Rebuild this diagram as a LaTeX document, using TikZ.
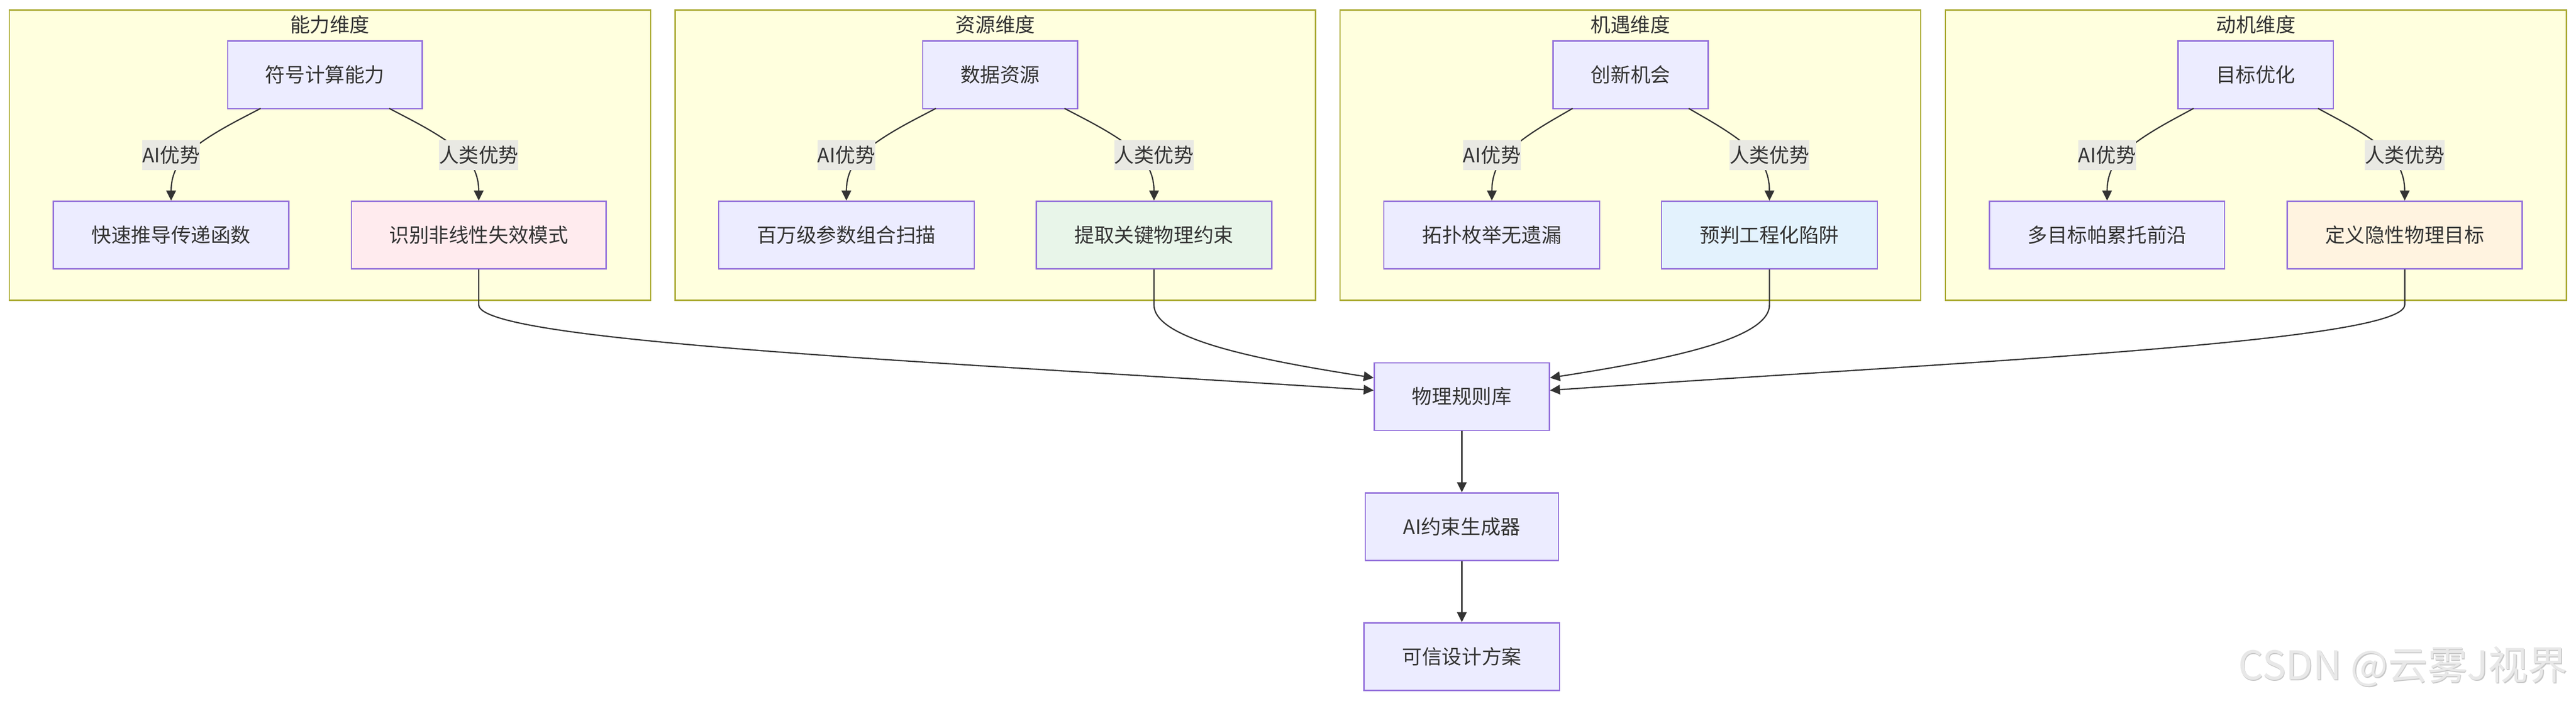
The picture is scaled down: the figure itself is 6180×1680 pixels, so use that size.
\documentclass[tikz,border=0pt]{standalone}
\usepackage{fontspec}
\setmainfont{Noto Sans CJK SC}
\usetikzlibrary{arrows.meta,calc}
\definecolor{clfill}{HTML}{FFFFDE}
\definecolor{cldraw}{HTML}{AAAA33}
\definecolor{ndfill}{HTML}{ECECFF}
\definecolor{nddraw}{HTML}{9370DB}
\definecolor{txt}{HTML}{333333}
\definecolor{lblfill}{RGB}{233,233,227}
\definecolor{pinkfill}{HTML}{FFEBEE}
\definecolor{greenfill}{HTML}{E8F5E9}
\definecolor{bluefill}{HTML}{E3F2FD}
\definecolor{orangefill}{HTML}{FFF3E0}
\definecolor{wmtext}{RGB}{232,232,232}
\definecolor{wmshadow}{RGB}{200,200,200}
\newcommand\inedge[3]{%
  \coordinate (eA) at ($(#1.center)!0.41818!(#2)$);
  \coordinate (eB) at (#2);
  \coordinate (eC) at (#3.north);
  \coordinate (eM) at ($(eA)!0.5!(eC)$);
  \draw[arr] (eA) -- ($(eA)!1/6!(eB)$)
    .. controls ($(eA)!1/3!(eB)$) and ($(eA)!2/3!(eB)$) .. ($(eB)!1/3!(eM)$)
    .. controls ($(eB)!1/3!(eC)$) and ($(eB)!2/3!(eC)$) .. ($(eB)!5/6!(eC)$)
    -- (eC);
}
\begin{document}
\begin{tikzpicture}[x=1pt,y=-1pt,
  font=\fontsize{47.7}{57}\selectfont,
  cluster/.style={draw=cldraw, fill=clfill, line width=3pt, inner sep=0pt, minimum height=696pt},
  cltitle/.style={text=txt, inner sep=0pt},
  box/.style={draw=nddraw, fill=ndfill, line width=3pt, minimum height=162pt, inner sep=0pt, text=txt},
  elabel/.style={fill=lblfill, inner sep=0pt, minimum height=72pt, text=txt},
  arr/.style={draw=txt, line width=3pt, -{Triangle[length=24pt,width=23pt]}},
]
\useasboundingbox (0,0) rectangle (6180,1680);
\fill[white] (0,0) rectangle (6180,1680);

% clusters
\node[cluster, minimum width=1539pt] (c1) at (791.5,372) {};
\node[cluster, minimum width=1536pt] (c2) at (2388,372) {};
\node[cluster, minimum width=1393pt] (c3) at (3911.5,372) {};
\node[cluster, minimum width=1490pt] (c4) at (5412,372) {};
\node[cltitle] (t1) at (791.5,59) {能力维度};
\node[cltitle] (t2) at (2388,59) {资源维度};
\node[cltitle] (t3) at (3911.5,59) {机遇维度};
\node[cltitle] (t4) at (5412,59) {动机维度};

% nodes
\node[box, minimum width=467pt] (p1) at (779.5,179.5) {符号计算能力};
\node[box, minimum width=565pt] (n1a) at (410.5,563.5) {快速推导传递函数};
\node[box, minimum width=611pt, fill=pinkfill] (n1b) at (1148.5,563.5) {识别非线性失效模式};

\node[box, minimum width=371pt] (p2) at (2399.5,179.5) {数据资源};
\node[box, minimum width=613pt] (n2a) at (2030.5,563.5) {百万级参数组合扫描};
\node[box, minimum width=565pt, fill=greenfill] (n2b) at (2768.5,563.5) {提取关键物理约束};

\node[box, minimum width=372pt] (p3) at (3912,179.5) {创新机会};
\node[box, minimum width=518pt] (n3a) at (3579,563.5) {拓扑枚举无遗漏};
\node[box, minimum width=518pt, fill=bluefill] (n3b) at (4245,563.5) {预判工程化陷阱};

\node[box, minimum width=373pt] (p4) at (5411.5,179.5) {目标优化};
\node[box, minimum width=564pt] (n4a) at (5055,563.5) {多目标帕累托前沿};
\node[box, minimum width=564pt, fill=orangefill] (n4b) at (5769,563.5) {定义隐性物理目标};

\node[box, minimum width=420pt] (lib) at (3507,951) {物理规则库};
\node[box, minimum width=463pt] (gen) at (3507,1263) {AI约束生成器};
\node[box, minimum width=469pt] (plan) at (3507,1574.5) {可信设计方案};

% label positions
\coordinate (q1a) at (410.5,372);
\coordinate (q1b) at (1148.5,372);
\coordinate (q2a) at (2030.5,372);
\coordinate (q2b) at (2768.5,372);
\coordinate (q3a) at (3579,372);
\coordinate (q3b) at (4245,372);
\coordinate (q4a) at (5055,372);
\coordinate (q4b) at (5769,372);

% inner edges
\inedge{p1}{q1a}{n1a}
\inedge{p1}{q1b}{n1b}
\inedge{p2}{q2a}{n2a}
\inedge{p2}{q2b}{n2b}
\inedge{p3}{q3a}{n3a}
\inedge{p3}{q3b}{n3b}
\inedge{p4}{q4a}{n4a}
\inedge{p4}{q4b}{n4b}

% edge labels
\node[elabel] (l1a) at (q1a) {AI优势};
\node[elabel] (l1b) at (q1b) {人类优势};
\node[elabel] (l2a) at (q2a) {AI优势};
\node[elabel] (l2b) at (q2b) {人类优势};
\node[elabel] (l3a) at (q3a) {AI优势};
\node[elabel] (l3b) at (q3b) {人类优势};
\node[elabel] (l4a) at (q4a) {AI优势};
\node[elabel] (l4b) at (q4b) {人类优势};

% edges to rule library
\draw[arr] (n1b.south) -- ++(0,85) .. controls +(0,90) and +(-996,-66) .. ($(lib.west)+(0,-15)$);
\draw[arr] (n2b.south) -- ++(0,85) .. controls +(0,80) and +(-296,-46) .. ($(lib.west)+(0,-45)$);
\draw[arr] (n3b.south) -- ++(0,85) .. controls +(0,80) and +(296,-46) .. ($(lib.east)+(0,-45)$);
\draw[arr] (n4b.south) -- ++(0,85) .. controls +(0,90) and +(950,-66) .. ($(lib.east)+(0,-15)$);

\draw[arr] (lib) -- (gen);
\draw[arr] (gen) -- (plan);

% watermark
\node[anchor=east, text=wmshadow, inner sep=0pt, font=\fontsize{95}{105}\selectfont] (wms) at (6162,1600) {CSDN @云雾J视界};
\node[anchor=east, text=wmtext, inner sep=0pt, font=\fontsize{95}{105}\selectfont] (wm) at (6160,1598) {CSDN @云雾J视界};
\end{tikzpicture}
\end{document}
